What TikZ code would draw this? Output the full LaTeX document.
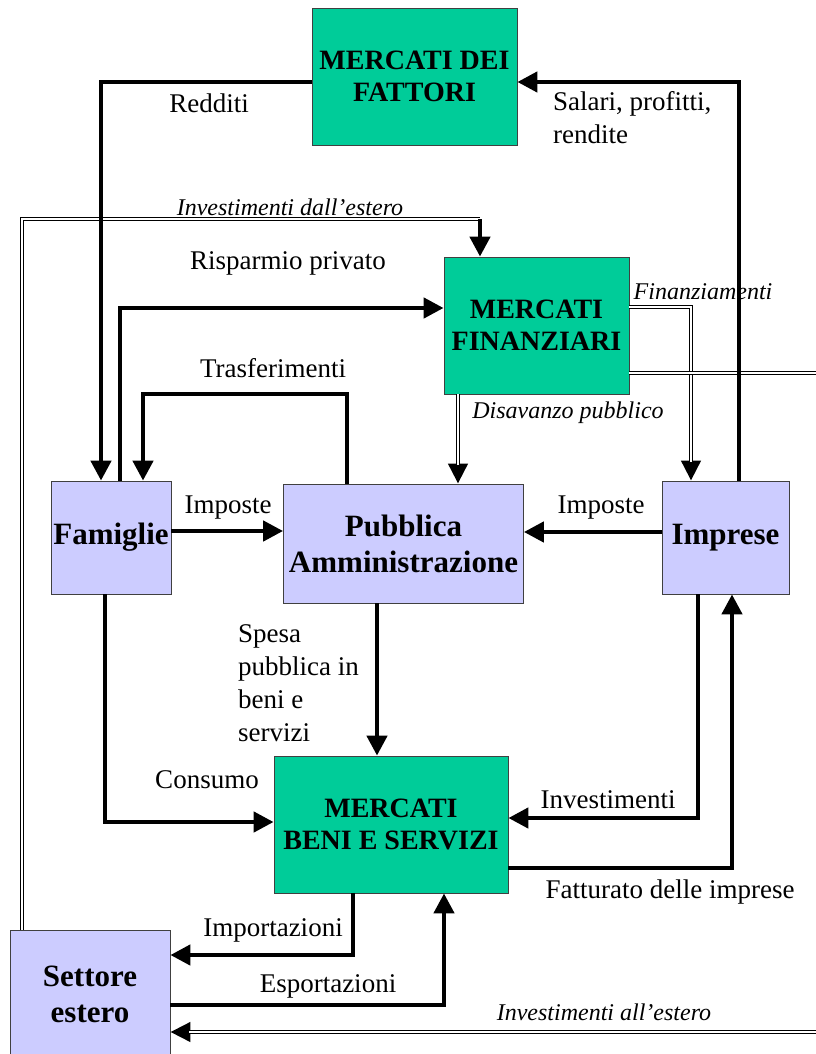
\documentclass[tikz,border=0pt]{standalone}
\usepackage{fontspec}
\setmainfont{Liberation Serif}
\usetikzlibrary{arrows.meta}
\definecolor{mktgreen}{RGB}{0,204,153}
\definecolor{agentblue}{RGB}{204,204,255}

\begin{document}
\begin{tikzpicture}[x=1pt,y=-1pt,
  flow/.style={line width=4.5pt,-{Triangle[length=20pt,width=20pt]}},
  money/.style={line width=4.2pt,-{Triangle[length=20pt,width=19pt]},
    postaction={draw=white,line width=1.8pt,-,shorten >=19pt}},
  money line/.style={line width=4.2pt,postaction={draw=white,line width=1.8pt}},
  market node/.style={rectangle,fill=mktgreen,draw=black!75,line width=0.8pt,inner sep=0pt,align=center,font=\fontsize{28}{32}\selectfont\bfseries},
  agent node/.style={rectangle,fill=agentblue,draw=black!75,line width=0.8pt,inner sep=0pt,align=center,font=\fontsize{31}{36}\selectfont\bfseries},
  flow label/.style={font=\fontsize{27}{33}\selectfont,inner sep=0pt},
  money label/.style={font=\fontsize{24}{28}\selectfont\itshape,inner sep=0pt}]
  \useasboundingbox (0,0) rectangle (815,1054);

  % boxes
  \node[market node,minimum width=205pt,minimum height=137pt] (fattori) at (414.5,76.5) {MERCATI DEI\\FATTORI};
  \node[market node,minimum width=185pt,minimum height=137pt] (finanz) at (536.5,325.5) {MERCATI\\FINANZIARI};
  \node[agent node,minimum width=120pt,minimum height=113pt] (famiglie) at (111,537.5) {Famiglie};
  \node[agent node,minimum width=240pt,minimum height=119pt] (pubblica) at (403.5,543.5) {Pubblica\\Amministrazione};
  \node[agent node,minimum width=127pt,minimum height=113pt] (imprese) at (725.5,537.5) {Imprese};
  \node[market node,minimum width=234pt,minimum height=137pt] (beni) at (391,824.5) {MERCATI\\BENI E SERVIZI};
  \node[agent node,minimum width=160pt,minimum height=128pt] (estero) at (90,994) {Settore\\estero};

  \coordinate (drop) at (480,219);
  \coordinate (eastA) at (820,373);
  \coordinate (eastB) at (820,1032);

  % flussi finanziari (doppi)
  \draw[money line] (22,0 |- estero.north) |- (drop);
  \draw[money] (458,0 |- finanz.south) -- (458,0 |- pubblica.north);
  \draw[money] (finanz.east |- 0,307) -| (691,0 |- imprese.north);
  \draw[money line] (finanz.east |- 0,373) -- (eastA);
  \draw[money] (eastB) -- (estero.east |- 0,1032);

  % flussi reali
  \draw[flow] (drop) -- (drop |- finanz.north);
  \draw[flow] (fattori.west |- 0,82) -| (101,0 |- famiglie.north);
  \draw[flow] (739,0 |- imprese.north) |- (fattori.east |- 0,82);
  \draw[flow] (120,0 |- famiglie.north) |- (finanz.west |- 0,308);
  \draw[flow] (347,0 |- pubblica.north) -- (347,394) -| (143,0 |- famiglie.north);
  \draw[flow] (famiglie.east |- 0,531) -- (pubblica.west |- 0,531);
  \draw[flow] (imprese.west |- 0,532) -- (pubblica.east |- 0,532);
  \draw[flow] (105,0 |- famiglie.south) |- (beni.west |- 0,822);
  \draw[flow] (377,0 |- pubblica.south) -- (377,0 |- beni.north);
  \draw[flow] (698,0 |- imprese.south) |- (beni.east |- 0,818);
  \draw[flow] (beni.east |- 0,868) -| (732,0 |- imprese.south);
  \draw[flow] (353,0 |- beni.south) |- (estero.east |- 0,955);
  \draw[flow] (estero.east |- 0,1005) -| (444,0 |- beni.south);

  % etichette
  \node[flow label] (redditi) at (209,103) {Redditi};
  \node[flow label,align=left,anchor=west] (salari) at (553,118) {Salari, profitti,\\rendite};
  \node[money label] (invdall) at (290,207) {Investimenti dall'estero};
  \node[flow label] (risp) at (288,263) {Risparmio privato};
  \node[money label] (finanziam) at (703,292) {Finanziamenti};
  \node[flow label] (trasf) at (273,368) {Trasferimenti};
  \node[money label] (disav) at (568,413) {Disavanzo pubblico};
  \node[flow label] (impL) at (228,508) {Imposte};
  \node[flow label] (impR) at (601,508) {Imposte};
  \node[flow label,align=left,anchor=west] (spesa) at (238,683) {Spesa\\pubblica in\\beni e\\servizi};
  \node[flow label] (consumo) at (207,780) {Consumo};
  \node[flow label] (invest) at (608,800) {Investimenti};
  \node[flow label] (fatt) at (670,892) {Fatturato delle imprese};
  \node[flow label] (import) at (273,930) {Importazioni};
  \node[flow label] (export) at (328,986) {Esportazioni};
  \node[money label] (invall) at (604,1012) {Investimenti all'estero};
\end{tikzpicture}
\end{document}
